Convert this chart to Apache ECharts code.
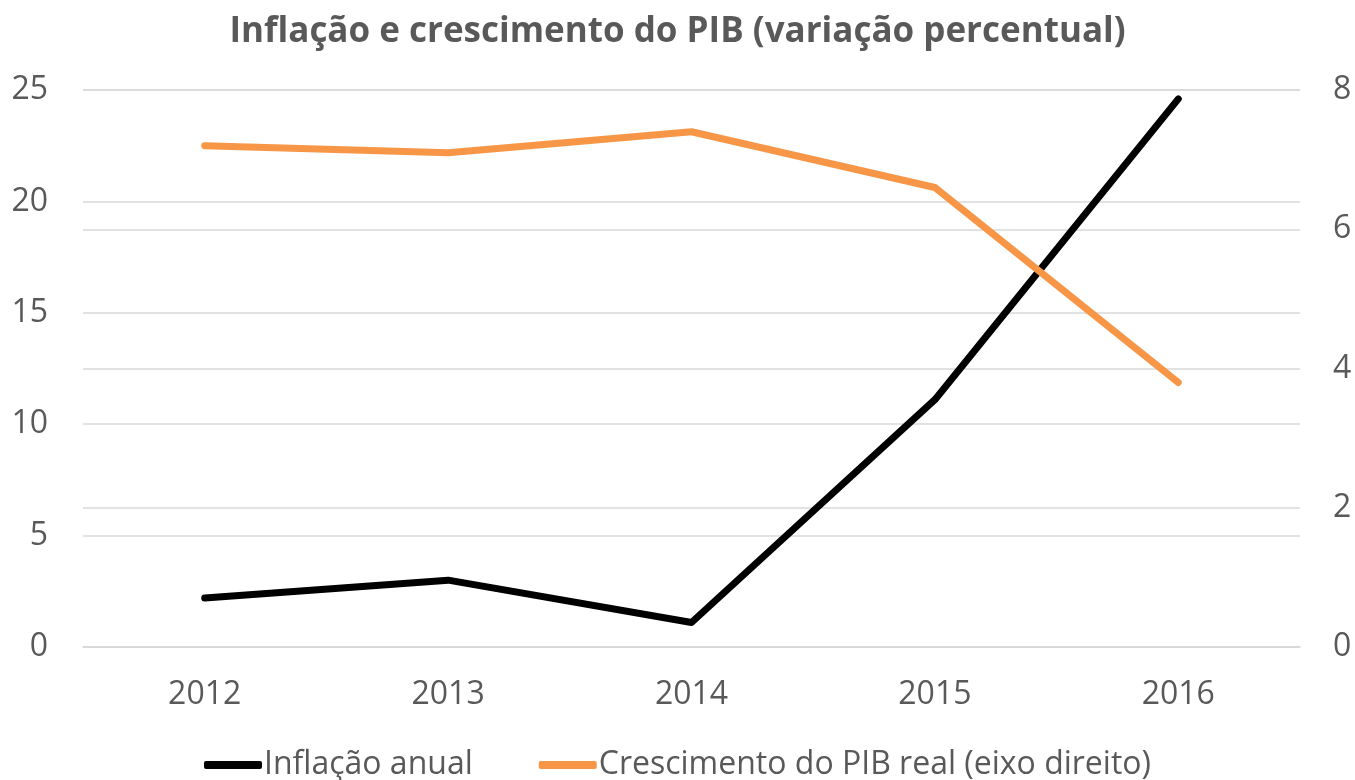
<!DOCTYPE html>
<html>
<head>
<meta charset="utf-8">
<script src="https://cdn.jsdelivr.net/npm/echarts@6/dist/echarts.min.js"></script>
<style>
  html, body { margin: 0; padding: 0; background: #fff; }
  #chart { width: 1355px; height: 780px; }
</style>
</head>
<body>
<div id="chart"></div>
<script>
const years = ['2012', '2013', '2014', '2015', '2016'];
const inflacao = [2.2, 3.0, 1.1, 11.1, 24.6];
const pib = [7.2, 7.1, 7.4, 6.6, 3.8];

const txt = '#595959';
const grid = '#d9d9d9';
const font = '"Open Sans", "Noto Sans", sans-serif';

const chart = echarts.init(document.getElementById('chart'));
chart.setOption({
    animation: false,
    textStyle: { fontFamily: font },
    title: {
        text: 'Inflação e crescimento do PIB (variação percentual)',
        left: 'center',
        top: 10,
        textStyle: { color: txt, fontSize: 35, fontWeight: 'bold', fontFamily: font }
    },
    legend: {
        bottom: -6,
        left: 'center',
        icon: 'roundRect',
        itemWidth: 58,
        itemHeight: 8,
        itemGap: 66,
        textStyle: { color: txt, fontSize: 32, fontFamily: font, padding: [0, 0, 0, -3] },
        data: ['Inflação anual', 'Crescimento do PIB real (eixo direito)']
    },
    grid: { left: 83, right: 55, top: 90, bottom: 133 },
    xAxis: {
        type: 'category',
        data: years,
        boundaryGap: true,
        axisLine: { show: true, lineStyle: { color: grid, width: 1.5 } },
        axisTick: { show: false },
        axisLabel: { color: txt, fontSize: 32, margin: 32 }
    },
    yAxis: [
        {
            type: 'value',
            min: 0, max: 25, interval: 5,
            axisLine: { show: false },
            axisTick: { show: false },
            axisLabel: { color: txt, fontSize: 32, margin: 35 },
            splitLine: { lineStyle: { color: grid, width: 1.5 } }
        },
        {
            type: 'value',
            min: 0, max: 8, interval: 2,
            position: 'right',
            axisLine: { show: false },
            axisTick: { show: false },
            axisLabel: { color: txt, fontSize: 32, margin: 33 },
            splitLine: { show: true, lineStyle: { color: grid, width: 1.5 } }
        }
    ],
    series: [
        {
            name: 'Inflação anual',
            type: 'line',
            yAxisIndex: 0,
            data: inflacao,
            symbol: 'none',
            itemStyle: { color: '#000000' },
            lineStyle: { color: '#000000', width: 7, cap: 'round', join: 'round' }
        },
        {
            name: 'Crescimento do PIB real (eixo direito)',
            type: 'line',
            yAxisIndex: 1,
            data: pib,
            symbol: 'none',
            itemStyle: { color: '#f79646' },
            lineStyle: { color: '#f79646', width: 7, cap: 'round', join: 'round' }
        }
    ]
});
</script>
</body>
</html>
